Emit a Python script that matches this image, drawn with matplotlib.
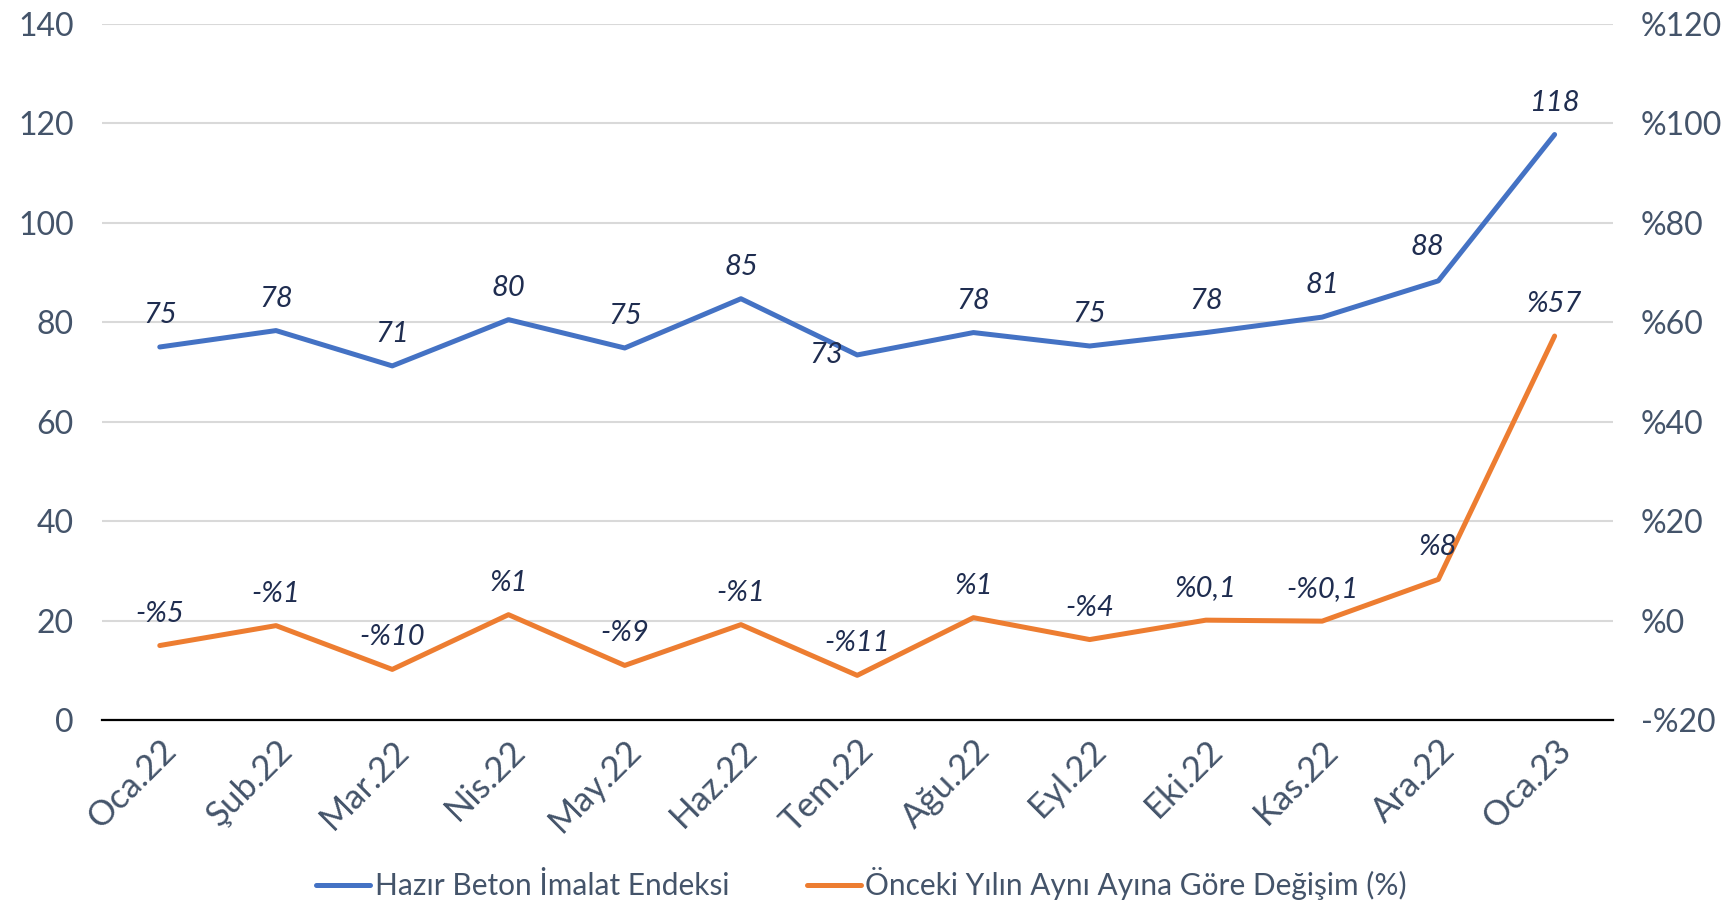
import matplotlib.pyplot as plt

plt.rcParams['font.family'] = ['Lato', 'DejaVu Sans']

months = ['Oca.22', 'Şub.22', 'Mar.22', 'Nis.22', 'May.22', 'Haz.22', 'Tem.22',
          'Ağu.22', 'Eyl.22', 'Eki.22', 'Kas.22', 'Ara.22', 'Oca.23']
index_vals = [75.0, 78.3, 71.2, 80.5, 74.8, 84.7, 73.4, 77.9, 75.2, 77.9, 81.0, 88.3, 117.7]
index_labels = ['75', '78', '71', '80', '75', '85', '73', '78', '75', '78', '81', '88', '118']
change_vals = [-5.0, -1.0, -9.8, 1.2, -9.0, -0.8, -11.0, 0.6, -3.8, 0.1, -0.1, 8.3, 57.2]
change_labels = ['-%5', '-%1', '-%10', '%1', '-%9', '-%1', '-%11', '%1', '-%4',
                 '%0,1', '-%0,1', '%8', '%57']
left_ticks = [0, 20, 40, 60, 80, 100, 120, 140]
right_ticks = [-20, 0, 20, 40, 60, 80, 100, 120]

blue = '#4472C4'
orange = '#ED7D31'
tick_color = '#44546A'
label_color = '#1F2D50'

fig = plt.figure(figsize=(17.23, 9.07), dpi=100)
ax = fig.add_axes([0.059, 0.206, 0.877, 0.768])
ax2 = ax.twinx()

x = list(range(len(months)))
l1, = ax.plot(x, index_vals, color=blue, lw=3.6, solid_capstyle='round', zorder=3)
l2, = ax2.plot(x, change_vals, color=orange, lw=3.6, solid_capstyle='round', zorder=3)

ax.set_xlim(-0.5, len(months) - 0.5)
ax.set_ylim(0, 140)
ax2.set_ylim(-20, 120)
ax.set_yticks(left_ticks)
ax2.set_yticks(right_ticks)
ax2.set_yticklabels([('-%' + str(-v)) if v < 0 else '%' + str(v) for v in right_ticks])
ax.set_xticks(x)
ax.set_xticklabels(months, rotation=45, ha='right', va='top', rotation_mode='anchor')

ax.grid(axis='y', color='#D9D9D9', lw=1.5)
ax.set_axisbelow(True)
for a in (ax, ax2):
    for s in a.spines.values():
        s.set_visible(False)
    a.tick_params(length=0, labelsize=23, colors=tick_color)
ax.spines['bottom'].set_visible(True)
ax.spines['bottom'].set_color('black')
ax.spines['bottom'].set_linewidth(1.6)
ax.tick_params(axis='y', pad=20)
ax.tick_params(axis='x', pad=10, labelsize=25)
ax2.tick_params(axis='y', pad=20)

# data labels
blue_offsets = {6: (-22, 0), 11: (-8, 24)}
for i, (v, t) in enumerate(zip(index_vals, index_labels)):
    dx, dy = blue_offsets.get(i, (0, 23))
    ax.annotate(t, (i, v), xytext=(dx, dy), textcoords='offset points',
                ha='center', va='center', fontsize=21, style='italic', color=label_color)
for i, (v, t) in enumerate(zip(change_vals, change_labels)):
    ax2.annotate(t, (i, v), xytext=(0, 23), textcoords='offset points',
                 ha='center', va='center', fontsize=21, style='italic', color=label_color)

leg = fig.legend([l1, l2], ['Hazır Beton İmalat Endeksi', 'Önceki Yılın Aynı Ayına Göre Değişim (%)'],
                 loc='lower center', bbox_to_anchor=(0.5, -0.022), ncol=2, frameon=False,
                 fontsize=21.5, handlelength=1.8, handletextpad=0.15, columnspacing=2.6)
for t in leg.get_texts():
    t.set_color(tick_color)

fig.savefig('out.png', dpi=100)
